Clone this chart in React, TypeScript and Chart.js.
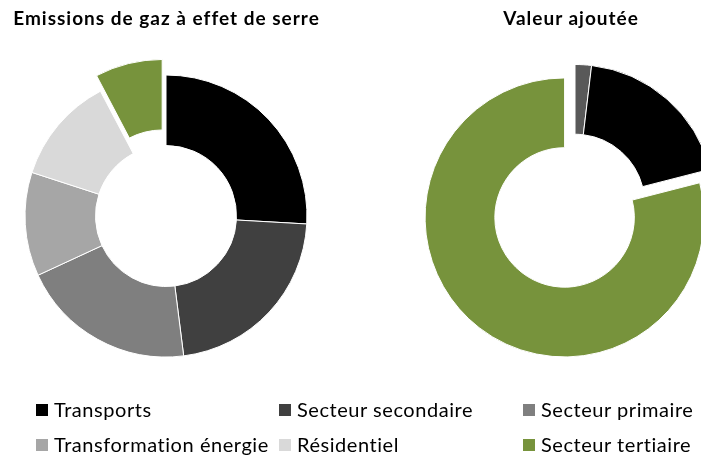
import React, { useEffect, useRef } from "react";
import { Chart, registerables } from "chart.js";

Chart.register(...registerables);

// ---- Data ----
const emissionTitle = "Emissions de gaz à effet de serre";
const emissionLabels = [
  "Transports",
  "Secteur secondaire",
  "Secteur primaire",
  "Transformation énergie",
  "Résidentiel",
  "Secteur tertiaire",
];
const emissionValues = [25.9, 22.1, 20.1, 11.9, 12.3, 7.7];
const emissionColors = ["#000000", "#404040", "#7f7f7f", "#a6a6a6", "#d9d9d9", "#77933c"];
const emissionExplode = [0, 0, 0, 0, 0, 16];

const valueTitle = "Valeur ajoutée";
const valueLabels = ["Secteur primaire", "Secteur secondaire", "Secteur tertiaire"];
const valueValues = [1.9, 19.1, 79.0];
const valueColors = ["#595959", "#000000", "#77933c"];
const valueExplode = [0, 0, 17];

const FONT = "Lato, 'Open Sans', sans-serif";

// Pure translation of exploded slices (Excel-like)
const explodePlugin = {
  id: "explode",
  afterDatasetsUpdate(chart: any, _args: any, opts: any) {
    const amounts: number[] = (opts && opts.amounts) || [];
    const meta = chart.getDatasetMeta(0);
    meta.data.forEach((el: any, i: number) => {
      const d = amounts[i] || 0;
      if (!d) return;
      const mid = (el.startAngle + el.endAngle) / 2;
      el.x += Math.cos(mid) * d;
      el.y += Math.sin(mid) * d;
    });
  },
};

type DProps = {
  labels: string[];
  values: number[];
  colors: string[];
  explode: number[];
  radius: number;
  left: number;
  top: number;
  width: number;
  height: number;
  padding: { left: number; right: number; top: number; bottom: number };
};

function Doughnut(p: DProps) {
  const ref = useRef<HTMLCanvasElement>(null);
  useEffect(() => {
    const chart = new Chart(ref.current as HTMLCanvasElement, {
      type: "doughnut",
      data: {
        labels: p.labels,
        datasets: [
          {
            data: p.values,
            backgroundColor: p.colors,
            borderColor: "#ffffff",
            borderWidth: 1,
            clip: false,
          } as any,
        ],
      },
      options: {
        responsive: false,
        animation: false,
        devicePixelRatio: 1,
        radius: p.radius,
        cutout: "50%",
        events: [],
        layout: { padding: p.padding },
        plugins: {
          legend: { display: false },
          tooltip: { enabled: false },
          title: { display: false },
          explode: { amounts: p.explode },
        } as any,
      } as any,
      plugins: [explodePlugin as any],
    });
    return () => chart.destroy();
  }, []);
  return (
    <canvas
      ref={ref}
      width={p.width}
      height={p.height}
      style={{ position: "absolute", left: p.left, top: p.top, width: p.width, height: p.height }}
    />
  );
}

const legendCols = [
  { sq: 36, tx: 54 },
  { sq: 279, tx: 297 },
  { sq: 523, tx: 541 },
];
const legendRows = [416.7, 451.7];
const LEG_SIZE = 20;
const LEG_SPACING = 0.55;
const TITLE_SIZE = 19;
const TITLE_SPACING = 1.0;

export default function App() {
  const titleStyle = (left: number, width: number): React.CSSProperties => ({
    position: "absolute",
    left,
    width,
    top: 25 - 0.887 * TITLE_SIZE,
    fontSize: TITLE_SIZE,
    lineHeight: TITLE_SIZE + "px",
    fontWeight: 700,
    letterSpacing: TITLE_SPACING,
    textAlign: "center",
    whiteSpace: "nowrap",
    color: "#000",
  });
  return (
    <div
      style={{
        position: "absolute",
        left: 0,
        top: 0,
        width: 701,
        height: 456,
        overflow: "hidden",
        background: "#ffffff",
        fontFamily: FONT,
      }}
    >
      <Doughnut
        labels={emissionLabels}
        values={emissionValues}
        colors={emissionColors}
        explode={emissionExplode}
        radius={141}
        left={0}
        top={0}
        width={340}
        height={440}
        padding={{ left: 0, right: 8, top: 0, bottom: 8 }}
      />
      <Doughnut
        labels={valueLabels}
        values={valueValues}
        colors={valueColors}
        explode={valueExplode}
        radius={139.5}
        left={400}
        top={0}
        width={301}
        height={456}
        padding={{ left: 49, right: 0, top: 0, bottom: 48 }}
      />
      <div style={titleStyle(0, 333)}>{emissionTitle}</div>
      <div style={titleStyle(470, 202)}>{valueTitle}</div>
      {emissionLabels.map((lab, i) => {
        const row = Math.floor(i / 3);
        const col = i % 3;
        const base = legendRows[row];
        return (
          <React.Fragment key={lab}>
            <div
              style={{
                position: "absolute",
                left: legendCols[col].sq,
                top: base - 12.5,
                width: 12,
                height: 12,
                background: emissionColors[i],
              }}
            />
            <div
              style={{
                position: "absolute",
                left: legendCols[col].tx,
                top: base - 0.887 * LEG_SIZE,
                fontSize: LEG_SIZE,
                lineHeight: LEG_SIZE + "px",
                letterSpacing: LEG_SPACING,
                whiteSpace: "nowrap",
                color: "#000",
              }}
            >
              {lab}
            </div>
          </React.Fragment>
        );
      })}
    </div>
  );
}
